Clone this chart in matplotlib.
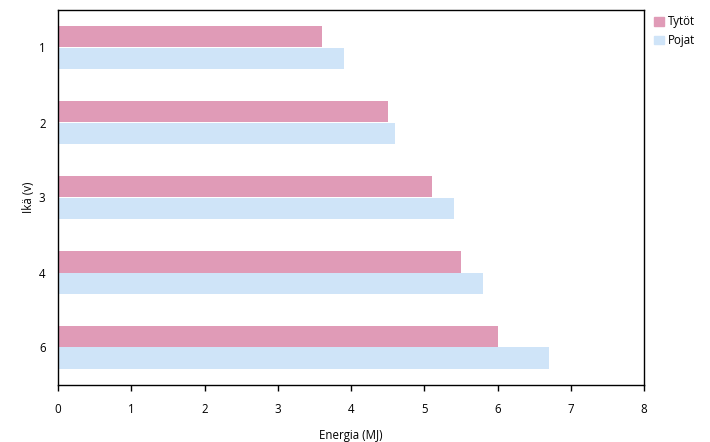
import matplotlib
matplotlib.use("Agg")
import matplotlib.pyplot as plt
import numpy as np
from matplotlib.patches import Patch

plt.rcParams['font.family'] = ['Open Sans', 'DejaVu Sans']

ages = ['1', '2', '3', '4', '6']
tytot = [3.6, 4.5, 5.1, 5.5, 6.0]
pojat = [3.9, 4.6, 5.4, 5.8, 6.7]

c_t = '#E09BB7'
c_p = '#CFE4F8'

fs = 8.3

fig = plt.figure(figsize=(7.10, 4.42), dpi=100)
ax = fig.add_axes([58/710, 1-385/442, (644-58)/710, (385-10)/442])

y = np.arange(len(ages))
h = 0.293
ax.barh(y - h/2, tytot, height=h, color=c_t, label='Tytöt')
ax.barh(y + h/2, pojat, height=h, color=c_p, label='Pojat')

ax.set_xlim(0, 8)
ax.set_ylim(len(ages) - 0.5, -0.5)
ax.set_yticks(y)
ax.set_yticklabels(ages)
ax.set_xticks(range(0, 9))
ax.tick_params(axis='y', length=0, pad=9, labelsize=fs)
ax.tick_params(axis='x', length=4, width=1, direction='out', pad=9, labelsize=fs)
for s in ax.spines.values():
    s.set_linewidth(1)
    s.set_color('black')
ax.set_xlabel('Energia (MJ)', fontsize=fs, labelpad=9)
ax.set_ylabel('Ikä (v)', fontsize=fs, labelpad=3)

handles = [Patch(color=c_t, label='Tytöt'), Patch(color=c_p, label='Pojat')]
fig.legend(handles=handles, loc='upper left', bbox_to_anchor=(652/710, 1-13/442),
           frameon=False, fontsize=fs, handlelength=0.8, handleheight=0.8,
           handletextpad=0.4, labelspacing=0.5, borderaxespad=0, borderpad=0.2)

fig.savefig('out.png', dpi=100)
